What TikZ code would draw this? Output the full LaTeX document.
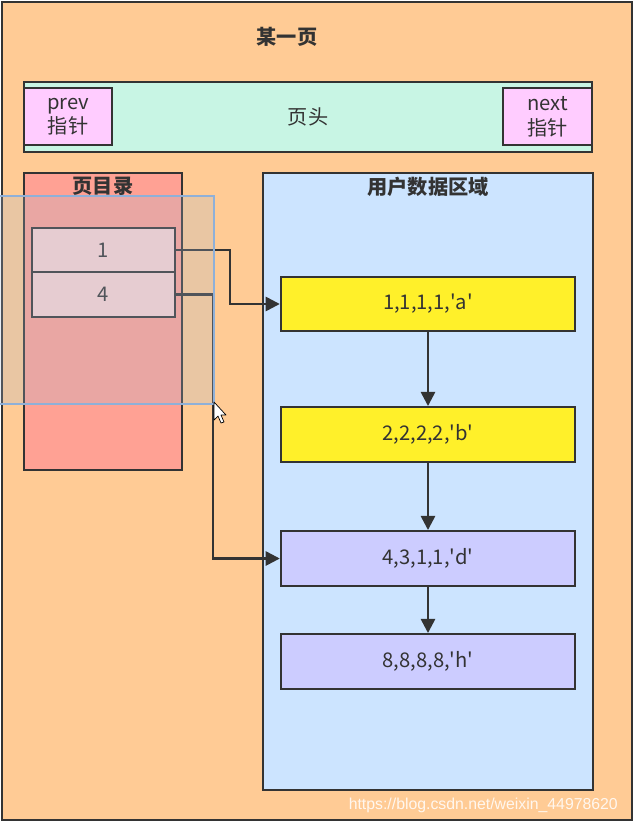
\documentclass[tikz,border=0pt]{standalone}
\usepackage{fontspec}
\setmainfont{Noto Sans CJK SC}
\newfontfamily\wmfont{Liberation Sans}
\usepackage{tikz}
\usetikzlibrary{arrows.meta}
\definecolor{pageorange}{HTML}{FFCB95}
\definecolor{headmint}{HTML}{C8F5E4}
\definecolor{ptrpink}{HTML}{FFCCFF}
\definecolor{dirred}{HTML}{FFA194}
\definecolor{slotpink}{HTML}{FCD4D2}
\definecolor{userblue}{HTML}{CCE4FF}
\definecolor{recyellow}{HTML}{FFF02A}
\definecolor{reclilac}{HTML}{CCCCFF}
\definecolor{edge}{HTML}{333333}
\definecolor{selblue}{HTML}{A8B8D0}
\definecolor{selline}{HTML}{8FB0D8}
\newcommand{\sq}{\textquotesingle}

\begin{document}
\begin{tikzpicture}[x = 0.02cm, y = -0.02cm,
    every node/.style = { font = \fontsize{11.5}{13}\selectfont, text = edge },
    box/.style = { draw = edge, line width = 1.4pt, shape = rectangle, inner sep = 0pt },
    title/.style = { font = \fontsize{11.5}{13}\selectfont\bfseries },
    record/.style = { box, minimum width = 5.88cm, minimum height = 1.09cm },
    slot/.style = { box, fill = slotpink, minimum width = 2.86cm, minimum height = 0.89cm },
    pointer/.style = { box, fill = ptrpink, minimum height = 1.14cm, align = center },
    link/.style = { draw = edge, line width = 1.4pt, -{Triangle[length = 8pt, width = 8pt]} }]
  \useasboundingbox (0,0) rectangle (634,825);
  % the page
  \node [box, fill = pageorange, minimum width = 12.6cm, minimum height = 16.36cm] (page) at (317,411) {};
  \node [title] (pagetitle) at (287,37) {某一页};
  % page header
  \node [box, fill = headmint, minimum width = 11.36cm, minimum height = 1.4cm] (head) at (308,117) {页头};
  \node [pointer, minimum width = 1.76cm] (prev) at (68,116.5) {prev\\[1pt]指针};
  \node [pointer, minimum width = 1.78cm] (next) at (547.5,116.5) {next\\[1pt]指针};
  % page directory
  \node [box, fill = dirred, minimum width = 3.16cm, minimum height = 5.94cm] (dir) at (103,321.5) {};
  \node [title] (dirtitle) at (103,186) {页目录};
  \node [slot] (slot1) at (103.5,250) {1};
  \node [slot] (slot4) at (103.5,294.5) {4};
  % user records
  \node [box, fill = userblue, minimum width = 6.6cm, minimum height = 12.34cm] (user) at (428,481.5) {};
  \node [title] (usertitle) at (428,187) {用户数据区域};
  \node [record, fill = recyellow] (reca) at (428,304) {1,1,1,1,\sq a\sq};
  \node [record, fill = recyellow] (recb) at (428,434.5) {2,2,2,2,\sq b\sq};
  \node [record, fill = reclilac] (recd) at (428,558.5) {4,3,1,1,\sq d\sq};
  \node [record, fill = reclilac] (rech) at (428,661.5) {8,8,8,8,\sq h\sq};
  \draw [link] (reca) -- (recb);
  \draw [link] (recb) -- (recd);
  \draw [link] (recd) -- (rech);
  \draw [link] (slot1.east) -- ++(54,0) |- (reca.west);
  \draw [link] (slot4.east) -- ++(37,0) |- (recd.west);
  % selection and pointer
  \fill [selblue, opacity = .25] (0,196) rectangle (214,404);
  \draw [selline, line width = .6pt] (0,196) -- (214,196) -- (214,404) -- (0,404);
  \draw [fill = white, draw = black, line width = .4pt, line join = round]
    (214,402) -- (214,420) -- (218,416) -- (221,423) -- (224,422) -- (221,415) -- (226,415) -- cycle;
  \node [text = white, opacity = .85, font = \wmfont\fontsize{9}{10}\selectfont, anchor = east] (mark) at (624,805) {https://blog.csdn.net/weixin\_44978620};
\end{tikzpicture}
\end{document}
